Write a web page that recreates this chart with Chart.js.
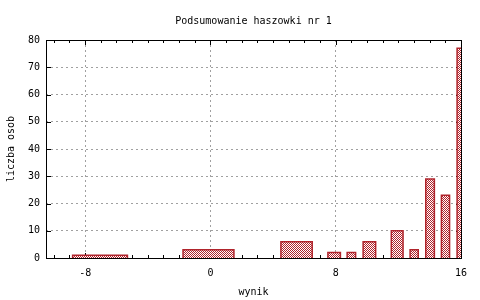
<!DOCTYPE html>
<html>
<head>
<meta charset="utf-8">
<script src="https://cdn.jsdelivr.net/npm/chart.js@4.4.1/dist/chart.umd.min.js"></script>
<style>
html, body { margin: 0; padding: 0; background: #fff; }
#box { width: 480px; height: 300px; }
</style>
</head>
<body>
<div id="box"><canvas id="chart"></canvas></div>
<script>
// bins: left edge, right edge, count
var binStart = [-8.8, -1.75, 4.5, 7.5, 8.73, 9.75, 11.55, 12.75, 13.75, 14.75, 15.75];
var binEnd   = [-5.3,  1.5,  6.5, 8.3, 9.27, 10.55, 12.3, 13.27, 14.3, 15.27, 16.25];
var counts   = [1, 3, 6, 2, 2, 6, 10, 3, 29, 23, 77];

var xTicks = [-8, 0, 8, 16];
var yTicks = [0, 10, 20, 30, 40, 50, 60, 70, 80];

var title = "Podsumowanie haszowki nr 1";
var xTitle = "wynik";
var yTitle = "liczba osob";

var barColor = "#b0242c";
var font = {family: "DejaVu Sans Mono", size: 10, weight: "normal"};

function hatch()
{
    var c = document.createElement("canvas");
    c.width = 2;
    c.height = 2;
    var g = c.getContext("2d");
    g.fillStyle = "#fff";
    g.fillRect(0, 0, 2, 2);
    g.fillStyle = barColor;
    g.fillRect(0, 0, 1, 1);
    g.fillRect(1, 1, 1, 1);
    return g.createPattern(c, "repeat");
}

var pattern = hatch();
var datasets = [];
counts.map((n, i) => {
    datasets.push({
        data: [
            {x: binStart[i], y: 0},
            {x: binStart[i], y: n},
            {x: binEnd[i], y: n},
            {x: binEnd[i], y: 0}
        ],
        fill: "origin",
        backgroundColor: pattern,
        borderColor: barColor,
        borderWidth: 1.5,
        pointRadius: 0,
        tension: 0
    });
});

// gnuplot style frame with inward ticks
const frame = {
    id: "frame",
    beforeDatasetsDraw(chart) {
        const ctx = chart.ctx;
        const a = chart.chartArea;
        const xs = chart.scales.x;
        const ys = chart.scales.y;
        ctx.save();
        ctx.strokeStyle = "#000";
        ctx.lineWidth = 1;
        ctx.beginPath();
        for(var v = -10; v <= 16; v++)
        {
            var px = Math.round(xs.getPixelForValue(v)) + 0.5;
            var len = xTicks.includes(v) ? 5 : 3;
            ctx.moveTo(px, a.bottom);
            ctx.lineTo(px, a.bottom - len);
            ctx.moveTo(px, a.top);
            ctx.lineTo(px, a.top + len);
        }
        yTicks.map(v => {
            var py = Math.round(ys.getPixelForValue(v)) + 0.5;
            ctx.moveTo(a.left, py);
            ctx.lineTo(a.left + 5, py);
            ctx.moveTo(a.right, py);
            ctx.lineTo(a.right - 5, py);
        });
        ctx.stroke();
        ctx.restore();
    },
    afterDatasetsDraw(chart) {
        const ctx = chart.ctx;
        const a = chart.chartArea;
        ctx.save();
        ctx.strokeStyle = "#000";
        ctx.lineWidth = 1;
        ctx.strokeRect(Math.round(a.left) + 0.5, Math.round(a.top) + 0.5,
            Math.round(a.right - a.left), Math.round(a.bottom - a.top));
        ctx.restore();
    }
};

const ctx = document.getElementById("chart").getContext("2d");
const myChart = new Chart(ctx, {
    type: "line",
    data: {datasets: datasets},
    plugins: [frame],
    options: {
        responsive: true,
        maintainAspectRatio: false,
        animation: false,
        devicePixelRatio: 1,
        layout: {padding: {left: 0, right: 19, top: 0, bottom: 0}},
        plugins: {
            legend: {display: false},
            tooltip: {enabled: false},
            title: {
                display: true,
                text: title,
                fullSize: false,
                color: "#000",
                font: font,
                padding: {top: 15, bottom: 13}
            }
        },
        scales: {
            x: {
                type: "linear",
                min: -10.5,
                max: 16,
                afterBuildTicks: s => { s.ticks = xTicks.map(v => ({value: v})); },
                afterFit: s => { s.height = 42; },
                ticks: {color: "#000", font: font, padding: 9, maxRotation: 0},
                grid: {
                    drawTicks: false,
                    color: c => (c.tick && c.tick.value == 16) ? "rgba(0,0,0,0)" : "#a0a0a0"
                },
                border: {display: false, dash: [2, 3]},
                title: {display: true, text: xTitle, color: "#000", font: font, padding: {top: 0, bottom: 2}}
            },
            y: {
                min: 0,
                max: 80,
                afterBuildTicks: s => { s.ticks = yTicks.map(v => ({value: v})); },
                afterFit: s => { s.width = 46; },
                ticks: {color: "#000", font: font, padding: 6},
                grid: {
                    drawTicks: false,
                    color: c => (c.tick && (c.tick.value == 0 || c.tick.value == 80)) ? "rgba(0,0,0,0)" : "#a0a0a0"
                },
                border: {display: false, dash: [2, 3]},
                title: {display: true, text: yTitle, color: "#000", font: font, padding: {top: 5, bottom: 0}}
            }
        }
    }
});
</script>
</body>
</html>
